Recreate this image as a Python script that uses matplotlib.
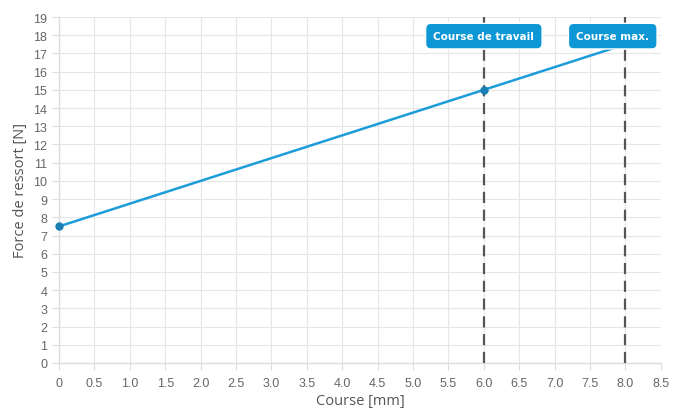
import matplotlib
matplotlib.use("Agg")
import matplotlib.pyplot as plt
import numpy as np

# course [mm] et force [N]
course = [0, 8]
force = [7.5, 17.5]
point_course = [0, 6]
point_force = [7.5, 15]

repere_x = [6, 8]
repere_labels = ["Course de travail", "Course max."]
repere_label_x = [6, 7.82]

x_ticks = np.arange(0, 8.51, 0.5)
x_ticklabels = ["0"] + [f"{v:.1f}" for v in x_ticks[1:]]
y_ticks = list(range(0, 20))

BLEU = "#1c9dd9"
BOITE = "#0d97d5"
GRIS_TXT = "#666666"

fig = plt.figure(figsize=(6.73, 4.14), dpi=100)
ax = fig.add_axes([0.0877, 0.1208, 0.8943, 0.8357])

ax.set_xlim(0, 8.5)
ax.set_ylim(0, 19)
ax.set_xticks(x_ticks)
ax.set_xticklabels(x_ticklabels)
ax.set_yticks(y_ticks)

ax.grid(True, color="#e6e6e6", linewidth=0.8)
ax.set_axisbelow(True)
for side in ["top", "right"]:
    ax.spines[side].set_visible(False)
for side in ["left", "bottom"]:
    ax.spines[side].set_color("#dddddd")
    ax.spines[side].set_linewidth(1)

ax.tick_params(axis="both", colors="#dddddd", length=5, width=0.8,
               labelcolor=GRIS_TXT, labelsize=9)
for lab in ax.get_xticklabels() + ax.get_yticklabels():
    lab.set_family("Liberation Sans")
ax.tick_params(axis="x", pad=5)

# lignes verticales en tirets
for xv in repere_x:
    ax.axvline(xv, color="#555555", linestyle=(0, (5, 3)), linewidth=1.6, zorder=3)

ax.plot(course, force, color=BLEU, linewidth=1.8, zorder=4, clip_on=False)
ax.plot(point_course, point_force, "o", color="#1a7fb5", markersize=5,
        zorder=5, clip_on=False)

for xl, txt in zip(repere_label_x, repere_labels):
    ax.text(xl, 17.95, txt, ha="center", va="center", color="white",
            fontsize=7.5, fontweight="bold", family="DejaVu Sans", zorder=6,
            bbox=dict(boxstyle="round,pad=0.75,rounding_size=0.5",
                      facecolor=BOITE, edgecolor="white", linewidth=1))

ax.set_xlabel("Course [mm]", fontsize=10.5, color="#555555",
              family="Open Sans", labelpad=3)
ax.set_ylabel("Force de ressort [N]", fontsize=10.5, color="#555555",
              family="Open Sans", labelpad=4)

fig.savefig("out.png", dpi=100)
